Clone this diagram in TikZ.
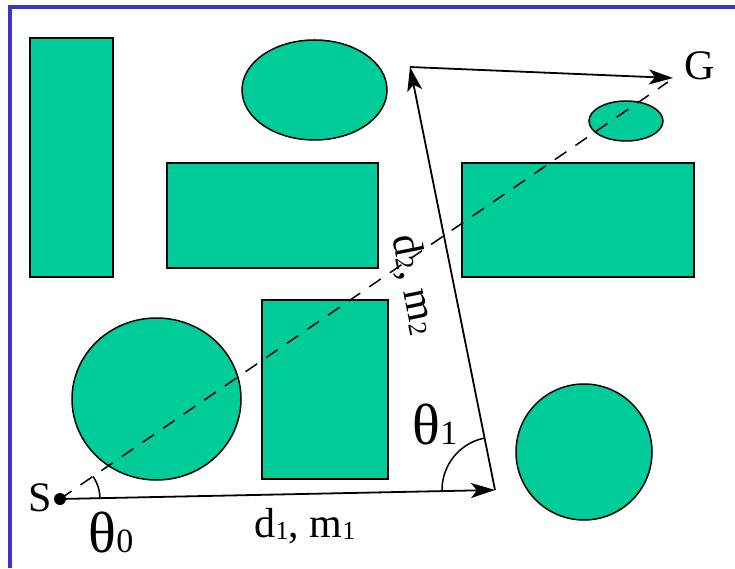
\documentclass[tikz,border=0pt]{standalone}
\usepackage{fontspec}
\setmainfont{Liberation Serif}
\usetikzlibrary{arrows.meta,calc}
\definecolor{obst}{RGB}{0,204,153}
\definecolor{frameblue}{RGB}{55,55,205}
\newcommand\dsub[1]{\raisebox{-2pt}{\fontsize{26}{26}\selectfont #1}}
\newcommand\tsub[1]{\raisebox{0pt}{\fontsize{34}{34}\selectfont #1}}
\tikzset{
  obstacle/.style={draw=black, fill=obst, line width=1.5pt},
  path/.style={draw=black, line width=1.8pt, -{Stealth[length=24pt,width=15pt,inset=6pt]}},
  lbl/.style={inner sep=0pt, font=\fontsize{42}{42}\selectfont},
  thlbl/.style={inner sep=0pt, font=\fontsize{58}{58}\selectfont},
  angarc/.style={draw=black, line width=1.5pt},
}
\begin{document}
\begin{tikzpicture}[x=1pt,y=1pt]
\useasboundingbox (0,0) rectangle (735,568);
\fill[white] (0,0) rectangle (735,568);
% frame
\draw[frameblue, line width=3.5pt] (10,0) -- (10,561) -- (735,561);
% obstacles
\draw[obstacle] (30,291) rectangle (113,530);
\draw[obstacle] (314.5,478) ellipse [x radius=72.5, y radius=50];
\draw[obstacle] (167,300) rectangle (378,405);
\draw[obstacle] (626,447) ellipse [x radius=37, y radius=20];
\draw[obstacle] (462,291) rectangle (694,405);
\draw[obstacle] (156.5,169) ellipse [x radius=84.5, y radius=81];
\draw[obstacle] (262,89) rectangle (388,268);
\draw[obstacle] (584,116) circle [radius=68];
% points
\coordinate (S) at (60,69);
\coordinate (P1) at (495,78);
\coordinate (P2) at (410,501);
\coordinate (Gend) at (673,490);
\coordinate (Dend) at (668,486);
\fill (S) circle [radius=6];
\node[lbl] (Slbl) at (40,70) {S};
\node[lbl] (Glbl) at (700,502) {G};
% dashed straight line
\draw[line width=1.5pt, dash pattern=on 14pt off 11pt] (S) -- (Dend);
% angle arcs
\draw[angarc] ($(S)+(40,0)$) arc [start angle=0, end angle=34.5, radius=40];
\draw[angarc] ($(P1)+(-53,0)$) arc [start angle=180, end angle=101.4, radius=53];
% path arrows
\draw[path] (S) -- (P1);
\draw[path] (P1) -- (P2);
\draw[path] (P2) -- (Gend);
% labels
\node[thlbl] (th0) at (111,35) {θ\tsub{0}};
\node[thlbl] (th1) at (435,143) {θ\tsub{1}};
\node[lbl] (d1) at (305,42) {d\dsub{1}, m\dsub{1}};
\node[lbl, rotate=-78.6] (d2) at (414,283) {d\dsub{2}, m\dsub{2}};
\end{tikzpicture}
\end{document}
